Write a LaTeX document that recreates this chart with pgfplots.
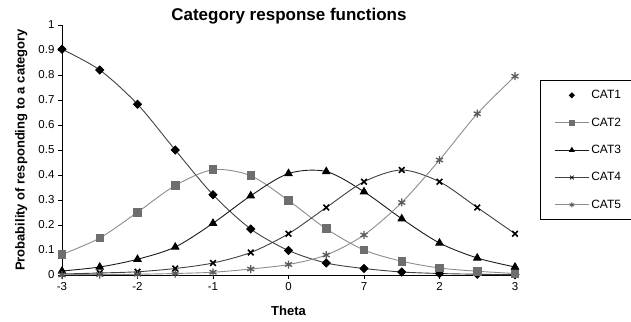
\documentclass[border=0pt]{standalone}
\usepackage{fontspec}
\setmainfont{Liberation Sans}
\usepackage{pgfplots}
\pgfplotsset{compat=1.18}
\definecolor{lineA}{HTML}{404040}
\definecolor{lineB}{HTML}{8C8C8C}
\definecolor{markB}{HTML}{6E6E6E}
\definecolor{lineC}{HTML}{1A1A1A}
\definecolor{markE}{HTML}{5A5A5A}
\pgfplotsset{
  mymarkonlylegend/.style={legend image code/.code={\draw[##1,mark size=1.7pt] plot[only marks] coordinates {(17pt,0pt)};}},
  mylinelegend/.style={legend image code/.code={\draw[mark repeat=2,mark phase=2,##1,mark size=2.6pt,every mark/.append style={line width=0.8pt}] plot coordinates {(0pt,0pt) (17pt,0pt) (34pt,0pt)};}},
}
\begin{document}
\begin{tikzpicture}
\path[use as bounding box] (0pt,0pt) rectangle (631pt,321pt);
\begin{axis}[
  at={(62pt,46pt)}, anchor=south west,
  scale only axis, width=453pt, height=250pt,
  xmin=-3, xmax=3, ymin=0, ymax=1,
  clip=false,
  axis x line*=bottom, axis y line*=left,
  axis line style={-, black, line width=0.8pt},
  xtick={-3,-2,-1,0,1,2,3}, xticklabels={-3,-2,-1,0,7,2,3},
  ytick={0,0.1,0.2,0.3,0.4,0.5,0.6,0.7,0.8,0.9,1},
  yticklabels={0,0.1,0.2,0.3,0.4,0.5,0.6,0.7,0.8,0.9,1},
  tick align=outside, major tick length=4pt,
  tick style={black, line width=0.8pt},
  ticklabel style={font=\fontsize{11.5}{13}\selectfont},
  title={Category response functions},
  title style={at={(axis description cs:0.501,1.012)}, anchor=center, font=\bfseries\fontsize{17}{20}\selectfont},
  xlabel={Theta},
  xlabel style={at={(axis description cs:0.5,-0.144)}, anchor=center, font=\bfseries\fontsize{13}{15}\selectfont},
  ylabel={Probability of responding to a category},
  ylabel style={at={(axis description cs:-0.09,0.5)}, anchor=center, font=\bfseries\fontsize{13}{15}\selectfont},
  legend style={at={(axis description cs:1.0552,0.78)}, anchor=north west, draw=black, line width=0.8pt,
    font=\fontsize{12}{14}\selectfont, row sep=13.5pt, inner xsep=14pt, inner ysep=8pt,
    /tikz/every even column/.append style={column sep=3pt}},
  legend cell align=left,
  mylinelegend,
]
\addplot[smooth, lineA, line width=0.9pt, mark=square*, mark size=2.9pt, mark options={black, fill=black, rotate=45}, mymarkonlylegend]
  coordinates {(-3,0.903) (-2.5,0.82) (-2,0.683) (-1.5,0.50) (-1,0.321) (-0.5,0.184) (0,0.098) (0.5,0.048) (1,0.026) (1.5,0.012) (2,0.006) (2.5,0.003) (3,0.001)};
\addlegendentry{CAT1}
\addplot[smooth, lineB, line width=0.9pt, mark=square*, mark size=3.8pt, mark options={markB, fill=markB}]
  coordinates {(-3,0.082) (-2.5,0.148) (-2,0.251) (-1.5,0.358) (-1,0.421) (-0.5,0.397) (0,0.298) (0.5,0.185) (1,0.100) (1.5,0.055) (2,0.028) (2.5,0.015) (3,0.006)};
\addlegendentry{CAT2}
\addplot[smooth, lineC, line width=0.9pt, mark=triangle*, mark size=4.2pt, mark options={black, fill=black}]
  coordinates {(-3,0.016) (-2.5,0.032) (-2,0.063) (-1.5,0.112) (-1,0.207) (-0.5,0.317) (0,0.406) (0.5,0.414) (1,0.333) (1.5,0.225) (2,0.128) (2.5,0.068) (3,0.032)};
\addlegendentry{CAT3}
\addplot[smooth, lineA, line width=0.9pt, mark=x, mark size=4pt, mark options={black, line width=1.5pt}]
  coordinates {(-3,0.004) (-2.5,0.008) (-2,0.013) (-1.5,0.026) (-1,0.048) (-0.5,0.090) (0,0.165) (0.5,0.270) (1,0.373) (1.5,0.420) (2,0.373) (2.5,0.270) (3,0.165)};
\addlegendentry{CAT4}
\addplot[smooth, lineB, line width=0.9pt, mark=asterisk, mark size=4pt, mark options={markE, line width=1.3pt}]
  coordinates {(-3,0.001) (-2.5,0.002) (-2,0.003) (-1.5,0.006) (-1,0.011) (-0.5,0.024) (0,0.042) (0.5,0.080) (1,0.160) (1.5,0.290) (2,0.460) (2.5,0.645) (3,0.795)};
\addlegendentry{CAT5}
\end{axis}
\end{tikzpicture}
\end{document}
